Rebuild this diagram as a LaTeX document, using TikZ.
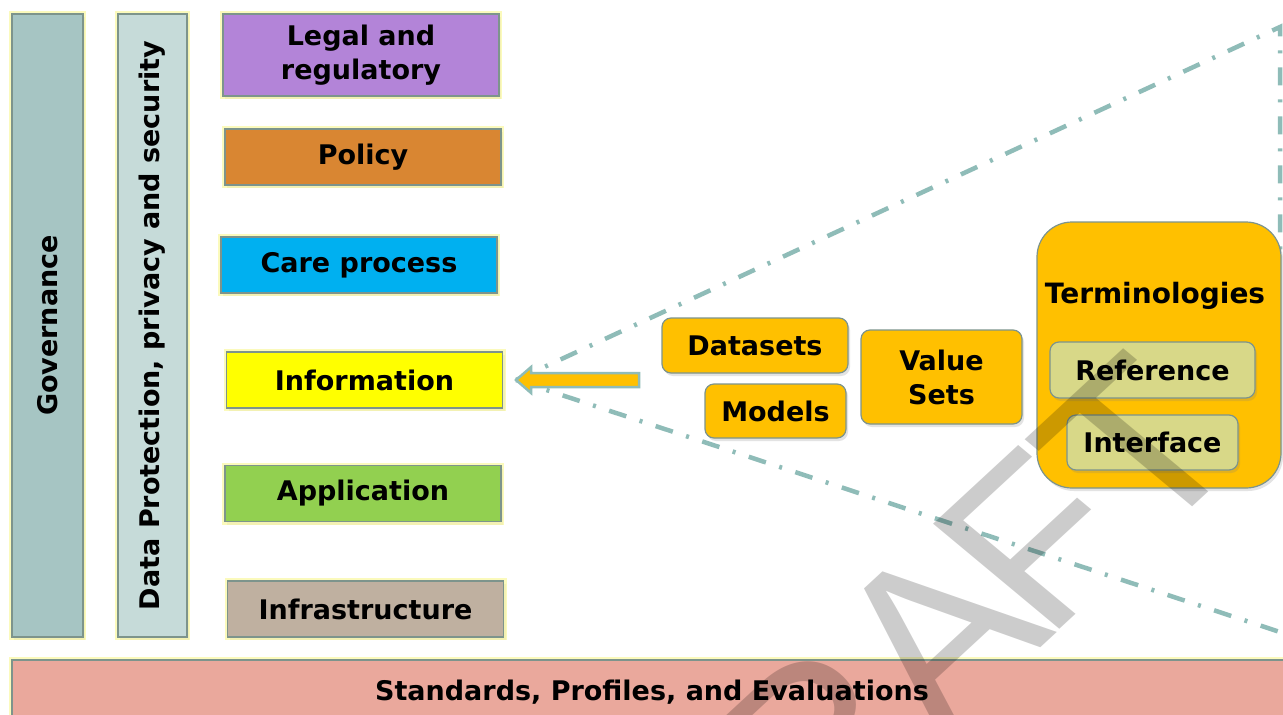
\documentclass[tikz,border=0pt]{standalone}
\usepackage{fontspec}
\setmainfont{DejaVu Sans}
\newfontfamily\wmfont[Kerning=Off]{Liberation Sans}
\usetikzlibrary{shadows,calc}
\definecolor{bordc}{RGB}{125,148,140}
\definecolor{glowc}{RGB}{250,248,160}
\definecolor{govc}{RGB}{166,197,195}
\definecolor{dpc}{RGB}{198,219,217}
\definecolor{legalc}{RGB}{179,132,216}
\definecolor{policyc}{RGB}{217,134,50}
\definecolor{carec}{RGB}{0,176,240}
\definecolor{infoc}{RGB}{255,255,0}
\definecolor{appc}{RGB}{146,208,80}
\definecolor{infrac}{RGB}{191,176,160}
\definecolor{stdc}{RGB}{234,168,156}
\definecolor{orangec}{RGB}{255,192,0}
\definecolor{refc}{RGB}{216,216,136}
\definecolor{dashc}{RGB}{143,188,184}
\begin{document}
\begin{tikzpicture}[x=1pt,y=-1pt,
  txt/.style={font=\bfseries\fontsize{27}{34}\selectfont, text=black, align=center},
  box/.style={txt, draw=bordc, line width=1.2pt, inner sep=0pt,
    drop shadow={shadow xshift=2pt, shadow yshift=-3pt, opacity=0.22}},
  glowbox/.style={box, preaction={draw=glowc, line width=6pt, opacity=0.7}},
  layerbox/.style={glowbox, minimum width=276pt, minimum height=56pt},
  vbar/.style={glowbox, rotate=90, minimum width=623pt},
  obox/.style={box, rounded corners=9pt, fill=orangec},
  tbox/.style={box, rounded corners=9pt, fill=refc},
  dashline/.style={draw=dashc, line width=4.5pt, dash pattern=on 18pt off 14pt on 3pt off 14pt},
  fatarrow/.style={fill=orangec, draw=dashc, line width=2.5pt, line join=miter}
]
\useasboundingbox (0,0) rectangle (1283,715);
\clip (0,0) rectangle (1283,715);
\fill[white] (0,0) rectangle (1283,715);

% vertical bars
\node[vbar, fill=govc, minimum height=71pt] (gov) at (47.5,325.5) {Governance};
\node[vbar, fill=dpc, minimum height=69pt] (dp) at (152.5,325.5) {Data Protection, privacy and security};

% layers
\node[layerbox, fill=legalc, minimum height=82pt] (legal) at (361,55) {Legal and\\regulatory};
\node[layerbox, fill=policyc] (policy) at (363,157) {Policy};
\node[layerbox, fill=carec] (care) at (359,265) {Care process};
\node[layerbox, fill=infoc] (info) at (364.5,380) {Information};
\node[layerbox, fill=appc] (app) at (363,493.5) {Application};
\node[layerbox, fill=infrac] (infra) at (365.5,609) {Infrastructure};

% standards bar
\node[glowbox, fill=stdc, minimum width=1280pt, minimum height=65pt] (std) at (652,692.5) {Standards, Profiles, and Evaluations};

% dash-dot lines
\coordinate (atip) at ([xshift=13pt]info.east);
\coordinate (ucorner) at (1280,27);
\coordinate (vend) at (1280,262);
\coordinate (lend) at (1292,636);
\draw[dashline] (atip) -- (ucorner) -- (vend);
\draw[dashline] (atip) -- (lend);

% fat arrow
\draw[fatarrow] (atip) -- ($(atip)+(15,-13)$) -- ($(atip)+(15,-7)$) -- ($(atip)+(123,-7)$)
  -- ($(atip)+(123,7)$) -- ($(atip)+(15,7)$) -- ($(atip)+(15,13)$) -- cycle;

% right-hand boxes
\node[obox, minimum width=186pt, minimum height=55pt] (datasets) at (755,345.5) {Datasets};
\node[obox, minimum width=141pt, minimum height=54pt] (models) at (775.5,411) {Models};
\node[obox, minimum width=161pt, minimum height=94pt] (valuesets) at (941.5,377) {Value\\Sets};
\node[box, rounded corners=35pt, fill=orangec, minimum width=244pt, minimum height=266pt] (term) at (1159,355) {};
\node[txt, font=\bfseries\fontsize{28}{30}\selectfont] (termlabel) at (1155,296) {Terminologies};
\node[tbox, minimum width=205pt, minimum height=56pt] (reference) at (1152.5,370) {Reference};
\node[tbox, minimum width=171pt, minimum height=55pt] (interface) at (1152.5,442.5) {Interface};

% watermark
\node[xscale=1.14, rotate=46.5, anchor=base west, text=black, text opacity=0.2, inner sep=0pt,
  font=\wmfont\fontsize{222}{222}\selectfont] (wm) at (691.8,969.8)
  {D\kern0pt R\kern-3pt A\kern-15pt F\kern-5.5pt T};
\end{tikzpicture}
\end{document}
